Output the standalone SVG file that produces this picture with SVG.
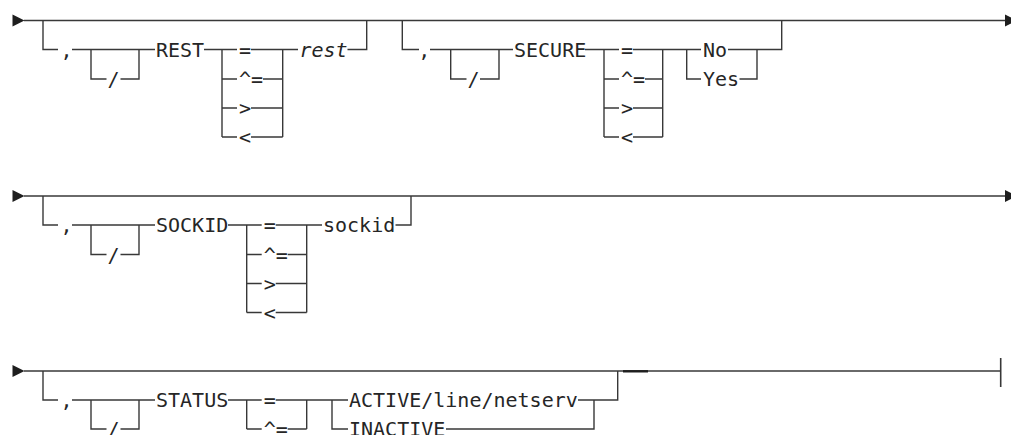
<svg xmlns="http://www.w3.org/2000/svg" width="1011" height="435" viewBox="0 0 1011 435">
<style>
.ln{fill:none;stroke:#383838;stroke-width:1.4}
.bar{fill:none;stroke:#383838;stroke-width:1.6}
.thk{fill:none;stroke:#1e1e1e;stroke-width:2.4}
.ar{fill:#1e1e1e}
text{font-family:"DejaVu Sans Mono","Liberation Mono",monospace;font-size:20px;fill:#262626}
.it{font-style:italic}
</style>
<rect width="1011" height="435" fill="#ffffff"/>
<g id="connectors">
<!-- row 1 -->
<polygon class="ar" points="12.5,14.5 12.5,26.5 24.5,20.5"/>
<path class="ln" d="M24,20.5 H1005"/>
<polygon class="ar" points="1005,14.5 1005,26.5 1017,20.5"/>
<path class="ln" d="M43,20.5 V49.5 H58 M72,49.5 H155 M91,49.5 V79 H106.5 M120.5,79 H139 V49.5"/>
<path class="ln" d="M204,49.5 H237 M251,49.5 H298 M222,49.5 V137 M222,79 H237 M222,108 H237 M222,137 H237 M263,79 H282.7 M251,108 H282.7 M251,137 H282.7 M282.7,49.5 V137"/>
<path class="ln" d="M347.5,49.5 H366.7 V20.5"/>
<path class="ln" d="M402.3,20.5 V49.5 H419 M430,49.5 H513 M450.7,49.5 V79 H466.5 M480,79 H499 V49.5"/>
<path class="ln" d="M585,49.5 H619 M633,49.5 H701 M604,49.5 V137 M604,79 H619 M604,108 H619 M604,137 H619 M645,79 H662.7 M633,108 H662.7 M633,137 H662.7 M662.7,49.5 V137"/>
<path class="ln" d="M686.7,49.5 V79 H701 M728,49.5 H781.7 V20.5 M739.5,79 H757 V49.5"/>
<!-- row 2 -->
<polygon class="ar" points="12.5,190 12.5,202 24.5,196"/>
<path class="ln" d="M24,196 H1005"/>
<polygon class="ar" points="1005,190 1005,202 1017,196"/>
<path class="ln" d="M43,196 V225 H58 M72,225 H155 M91,225 V254.5 H106.5 M120.5,254.5 H139 V225"/>
<path class="ln" d="M228,225 H261.7 M275.7,225 H322 M246.7,225 V312.5 M246.7,254.5 H261.7 M246.7,283.5 H261.7 M246.7,312.5 H261.7 M287.7,254.5 H306.7 M275.7,283.5 H306.7 M275.7,312.5 H306.7 M306.7,225 V312.5"/>
<path class="ln" d="M395.5,225 H411 V196"/>
<!-- row 3 -->
<polygon class="ar" points="12.5,365 12.5,377 24.5,371"/>
<path class="ln" d="M24,371 H1000.7"/>
<path class="bar" d="M1000.7,358 V387"/>
<path class="thk" d="M623,371.3 H648"/>
<path class="ln" d="M43,371 V400 H58 M72,400 H155 M91,400 V429 H106.5 M120.5,429 H139 V400"/>
<path class="ln" d="M228,400 H261.7 M275.7,400 H348 M246.7,400 V429 M246.7,429 H261.7 M287.7,429 H306.7 M306.7,400 V429"/>
<path class="ln" d="M332,400 V429 H348 M446,429 H594 V400 M578,400 H617.7 V371"/>
</g>
<!-- row 1 nodes -->
<g id="r1-comma"><text x="60.5" y="56.8">,</text></g>
<g id="r1-slash"><text x="107.4" y="86.3">/</text></g>
<g id="r1-REST"><text x="156" y="56.8">REST</text></g>
<g id="r1-op-eq"><text x="239" y="56.8">=</text></g>
<g id="r1-op-ne"><text x="239" y="86.3">^=</text></g>
<g id="r1-op-gt"><text x="239" y="115.3">&gt;</text></g>
<g id="r1-op-lt"><text x="239" y="144.3">&lt;</text></g>
<g id="r1-rest"><text class="it" x="299.5" y="56.8">rest</text></g>
<g id="r1b-comma"><text x="418.3" y="56.8">,</text></g>
<g id="r1b-slash"><text x="467.4" y="86.3">/</text></g>
<g id="r1-SECURE"><text x="514" y="56.8">SECURE</text></g>
<g id="r1b-op-eq"><text x="621" y="56.8">=</text></g>
<g id="r1b-op-ne"><text x="621" y="86.3">^=</text></g>
<g id="r1b-op-gt"><text x="621" y="115.3">&gt;</text></g>
<g id="r1b-op-lt"><text x="621" y="144.3">&lt;</text></g>
<g id="r1-No"><text x="703" y="56.8">No</text></g>
<g id="r1-Yes"><text x="703" y="86.3">Yes</text></g>
<!-- row 2 nodes -->
<g id="r2-comma"><text x="60.5" y="232.3">,</text></g>
<g id="r2-slash"><text x="107.4" y="261.8">/</text></g>
<g id="r2-SOCKID"><text x="156" y="232.3">SOCKID</text></g>
<g id="r2-op-eq"><text x="263.7" y="232.3">=</text></g>
<g id="r2-op-ne"><text x="263.7" y="261.8">^=</text></g>
<g id="r2-op-gt"><text x="263.7" y="290.8">&gt;</text></g>
<g id="r2-op-lt"><text x="263.7" y="319.8">&lt;</text></g>
<g id="r2-sockid"><text x="323" y="232.3">sockid</text></g>
<!-- row 3 nodes -->
<g id="r3-comma"><text x="60.5" y="407.3">,</text></g>
<g id="r3-slash"><text x="107.4" y="436.3">/</text></g>
<g id="r3-STATUS"><text x="156" y="407.3">STATUS</text></g>
<g id="r3-op-eq"><text x="263.7" y="407.3">=</text></g>
<g id="r3-op-ne"><text x="263.7" y="436.3">^=</text></g>
<g id="r3-active"><text x="349" y="407.3">ACTIVE/line/netserv</text></g>
<g id="r3-inactive"><text x="349" y="436.3">INACTIVE</text></g>
</svg>
